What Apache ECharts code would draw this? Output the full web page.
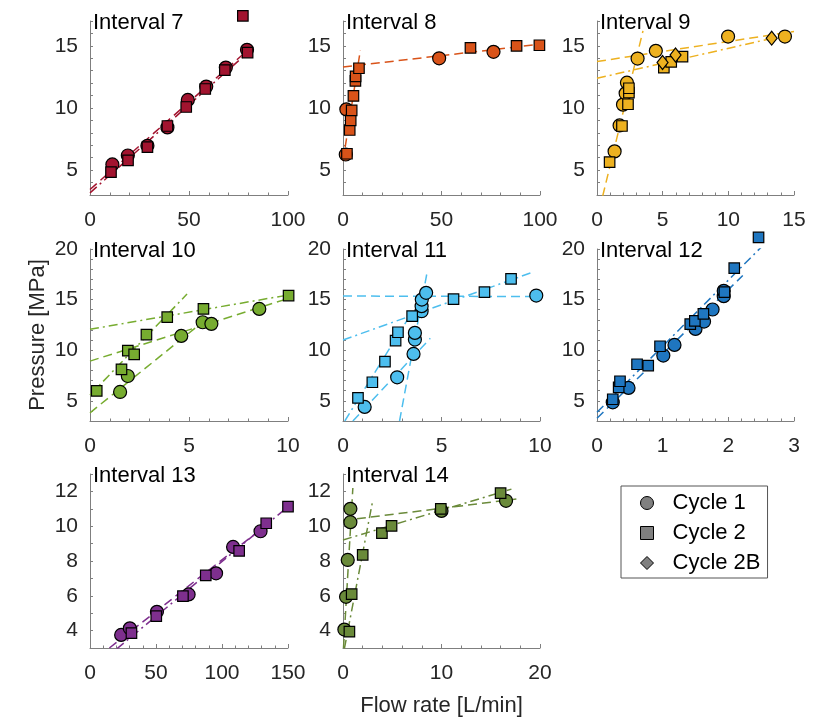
<!DOCTYPE html>
<html>
<head>
<meta charset="utf-8">
<script src="https://cdn.jsdelivr.net/npm/echarts@6/dist/echarts.min.js"></script>
<style>
  html, body { margin: 0; padding: 0; background: #ffffff; }
  #chart { width: 825px; height: 723px; }
</style>
</head>
<body>
<div id="chart"></div>
<script>
// Flow rate [L/min] vs pressure [MPa] per injection interval.
// c1 = cycle 1 (circles), c2 = cycle 2 (squares), c2b = cycle 2B (diamonds).
// fit1 / fit2 = straight-line fits for cycle 1 / cycle 2, as [start, end] point pairs.

const i7_c1 = [[11.3,5.46],[19.1,6.18],[29.0,6.96],[39.1,8.44],[49.4,10.65],[58.7,11.72],[68.6,13.25],[79.3,14.68]];
const i7_c2 = [[10.6,4.84],[19.2,5.78],[29.0,6.85],[39.1,8.55],[48.6,10.08],[58.2,11.53],[68.1,13.04],[79.6,14.46],[77.2,17.42]];
const i7_fit1 = [[[0,3.44],[80,14.7]]];
const i7_fit2 = [[[0,3.17],[80,14.5]]];

const i8_c1 = [[1.4,6.26],[1.7,9.89],[48.8,14.0],[76.4,14.52]];
const i8_c2 = [[2.0,6.32],[3.4,8.23],[3.9,9.0],[4.4,9.81],[5.3,10.97],[6.3,12.18],[6.4,12.55],[8.1,13.2],[64.7,14.84],[88.1,15.0],[99.7,15.05]];
const i8_fit1 = [[[0,5.73],[8.8,14.65]], [[0,13.3],[100,15.13]]];
const i8_fit2 = [];

const i9_c1 = [[1.34,6.51],[1.72,8.6],[1.98,10.27],[2.18,11.18],[2.28,12.04],[3.09,13.98],[4.48,14.6],[9.98,15.75],[14.31,15.75]];
const i9_c2 = [[0.96,5.65],[1.9,8.55],[2.36,10.3],[2.43,11.24],[2.43,11.59],[5.09,13.25],[5.65,13.71],[6.51,14.14]];
const i9_c2b = [[4.99,13.66],[5.98,14.27],[13.3,15.62]];
const i9_fit1 = [[[0.43,2.9],[3.5,16.2]], [[0,13.74],[15,16.16]]];
const i9_fit2 = [[[0,12.39],[13.3,15.6]]];

const i10_c1 = [[1.52,5.87],[1.91,7.45],[4.61,11.41],[5.69,12.76],[6.13,12.6],[8.55,14.08]];
const i10_c2 = [[0.34,5.97],[1.59,8.11],[1.91,9.95],[2.23,9.59],[2.85,11.54],[3.9,13.26],[5.73,14.08],[10.03,15.4]];
const i10_fit1 = [[[0,3.81],[5.7,12.8]], [[0,8.92],[10,15.1]]];
const i10_fit2 = [[[0,5.56],[4.9,15.55]], [[0,12.06],[10,15.45]]];

const i11_c1 = [[1.1,4.39],[2.75,7.32],[3.58,9.63],[3.65,11.05],[3.65,11.71],[3.99,13.85],[3.99,14.35],[4.0,15.0],[4.22,15.67],[9.81,15.4]];
const i11_c2 = [[0.76,5.28],[1.49,6.83],[2.13,8.87],[2.67,10.95],[2.79,11.77],[3.51,13.36],[5.61,15.04],[7.18,15.73],[8.53,17.05]];
const i11_fit1 = [[[0.5,3.0],[4.43,11.17]], [[2.87,3.0],[4.25,17.5]], [[0,15.35],[10,15.3]]];
const i11_fit2 = [[[0.09,3.0],[3.47,13.64]], [[0,11.0],[9.55,17.65]]];

const i12_c1 = [[0.24,4.85],[0.48,6.27],[1.01,9.47],[1.18,10.52],[1.5,12.1],[1.63,12.83],[1.76,14.02],[1.93,15.34],[1.93,15.86]];
const i12_c2 = [[0.24,5.15],[0.33,6.33],[0.35,6.93],[0.61,8.61],[0.78,8.48],[0.96,10.39],[1.42,12.57],[1.49,12.9],[1.62,13.59],[1.94,15.73],[2.09,18.1],[2.46,21.14]];
const i12_fit1 = [[[0,3.27],[2.22,17.38]]];
const i12_fit2 = [[[0,3.86],[2.5,20.18]]];

const i13_c1 = [[23.6,3.75],[30.2,4.13],[50.7,5.08],[74.7,6.08],[95.5,7.29],[108.4,8.81],[129.2,9.71]];
const i13_c2 = [[31.4,3.85],[50.2,4.83],[70.4,5.98],[87.7,7.17],[113,8.58],[133.5,10.17],[150,11.13]];
const i13_fit1 = [[[14.7,3.0],[130,9.85]]];
const i13_fit2 = [[[20.3,2.95],[150,11.12]]];

const i14_c1 = [[0.14,4.06],[0.31,5.94],[0.48,8.06],[0.75,10.23],[0.75,11.0],[10.0,10.88],[16.55,11.46]];
const i14_c2 = [[0.65,3.94],[0.88,6.1],[2.0,8.35],[3.95,9.6],[4.93,10.02],[9.93,11.0],[16.0,11.9]];
const i14_fit1 = [[[0.05,3.0],[1.0,12.2]], [[0,10.33],[17.6,11.56]]];
const i14_fit2 = [[[0.14,2.96],[3.0,11.42]], [[0,9.21],[17.1,12.13]]];

// Titles and tick labels
const panelTitles = ['Interval 7','Interval 8','Interval 9','Interval 10','Interval 11','Interval 12','Interval 13','Interval 14'];
const xTickLabels = [[0,50,100],[0,50,100],[0,5,10,15],[0,5,10],[0,5,10],[0,1,2,3],[0,50,100,150],[0,10,20]];
const yTickLabelsRow = [[5,10,15],[5,10,15,20],[4,6,8,10,12]];
const yRangeRow = [[3,17],[3,20],[3,13]];
const cycleNames = ['Cycle 1','Cycle 2','Cycle 2B'];

const panels = [
  {c1:i7_c1,  c2:i7_c2,  c2b:[],     fit1:i7_fit1,  fit2:i7_fit2},
  {c1:i8_c1,  c2:i8_c2,  c2b:[],     fit1:i8_fit1,  fit2:i8_fit2},
  {c1:i9_c1,  c2:i9_c2,  c2b:i9_c2b, fit1:i9_fit1,  fit2:i9_fit2},
  {c1:i10_c1, c2:i10_c2, c2b:[],     fit1:i10_fit1, fit2:i10_fit2},
  {c1:i11_c1, c2:i11_c2, c2b:[],     fit1:i11_fit1, fit2:i11_fit2},
  {c1:i12_c1, c2:i12_c2, c2b:[],     fit1:i12_fit1, fit2:i12_fit2},
  {c1:i13_c1, c2:i13_c2, c2b:[],     fit1:i13_fit1, fit2:i13_fit2},
  {c1:i14_c1, c2:i14_c2, c2b:[],     fit1:i14_fit1, fit2:i14_fit2}
];

// ---- styling / layout ----
const panelColors = ['#A2142F','#D95319','#EDB120','#77AC30','#4DBEEE','#1f76c0','#7E2F8E','#6a8a3a'];
const FONT = 'Liberation Sans, Arial, Helvetica, sans-serif';
const colLeft = [90, 343, 597];
const colWidth = [198, 197, 197];
const rowTop = [21, 249, 474];
const rowHeight = [174, 172, 174];
const DASH = [9, 5];
const DASHDOT = [9, 4, 2, 4];
const AXIS_GREY = '#7f7f7f';
const TEXT = '#262626';

const grids = [], xAxes = [], yAxes = [], titles = [], series = [];

panels.forEach((p, i) => {
  const row = Math.floor(i / 3), col = i % 3;
  grids.push({ left: colLeft[col], top: rowTop[row], width: colWidth[col], height: rowHeight[row] });

  const xl = xTickLabels[i];
  const xStep = xl[1] - xl[0];
  xAxes.push({
    type: 'value', gridIndex: i,
    min: 0, max: xl[xl.length - 1], interval: xStep,
    axisLine: { show: true, onZero: false, lineStyle: { color: AXIS_GREY, width: 1 } },
    axisTick: { show: true, inside: true, length: 4, lineStyle: { color: AXIS_GREY } },
    minorTick: { show: true, splitNumber: 5, length: 2.5, lineStyle: { color: AXIS_GREY } },
    splitLine: { show: false },
    axisLabel: { margin: 15, fontSize: 21, fontFamily: FONT, color: TEXT, showMinLabel: true, showMaxLabel: true },
    name: i === 7 ? 'Flow rate [L/min]' : '',
    nameLocation: 'middle', nameGap: 47,
    nameTextStyle: { fontSize: 22, fontFamily: FONT, color: TEXT }
  });

  const yr = yRangeRow[row];
  yAxes.push({
    type: 'value', gridIndex: i,
    min: yr[0], max: yr[1], interval: 1,
    axisLine: { show: true, onZero: false, lineStyle: { color: AXIS_GREY, width: 1 } },
    axisTick: { show: true, inside: true, length: 3, lineStyle: { color: AXIS_GREY } },
    splitLine: { show: false },
    axisLabel: { customValues: yTickLabelsRow[row], margin: 12, fontSize: 21, fontFamily: FONT, color: TEXT },
    name: i === 3 ? 'Pressure [MPa]' : '',
    nameLocation: 'middle', nameGap: 41,
    nameTextStyle: { fontSize: 22, fontFamily: FONT, color: TEXT }
  });

  titles.push({
    text: panelTitles[i], left: colLeft[col] + 3, top: rowTop[row] - 9, padding: 0,
    textStyle: { fontSize: 22, fontWeight: 'normal', fontFamily: FONT, color: '#000' }
  });

  const color = panelColors[i];
  const addFits = (fits, dash) => fits.forEach(seg => series.push({
    type: 'line', xAxisIndex: i, yAxisIndex: i, data: seg,
    symbol: 'none', silent: true, z: 1, clip: true,
    lineStyle: { color: color, width: 1.5, type: dash }
  }));
  addFits(p.fit1, DASH);
  addFits(p.fit2, DASHDOT);

  const mk = (name, data, symbol, size, z) => series.push({
    name: name, type: 'scatter', xAxisIndex: i, yAxisIndex: i, data: data,
    symbol: symbol, symbolSize: size, clip: false, z: z,
    itemStyle: { color: color, borderColor: '#000', borderWidth: 1.2, opacity: 1 },
    emphasis: { disabled: true }
  });
  mk(cycleNames[0], p.c1, 'circle', 13, 3);
  mk(cycleNames[1], p.c2, 'rect', 10.5, 4);
  if (p.c2b.length) mk(cycleNames[2], p.c2b, 'diamond', [11, 14], 5);
});

const legendIcons = ['circle', 'rect', 'diamond'];
const option = {
  animation: false,
  backgroundColor: '#ffffff',
  title: titles,
  grid: grids,
  xAxis: xAxes,
  yAxis: yAxes,
  legend: {
    orient: 'vertical', left: 621, top: 486,
    padding: [6, 7, 4, 19], itemGap: 8,
    itemWidth: 13, itemHeight: 13,
    borderColor: '#555555', borderWidth: 1, borderRadius: 0,
    selectedMode: false,
    textStyle: { fontSize: 22, lineHeight: 22, fontFamily: FONT, color: '#000', padding: [0, 0, 0, 14] },
    data: cycleNames.map((n, k) => ({
      name: n, icon: legendIcons[k],
      itemStyle: { color: '#808080', borderColor: '#000', borderWidth: 1 }
    }))
  },
  series: series
};

const chart = echarts.init(document.getElementById('chart'), null, { renderer: 'canvas' });
chart.setOption(option);
</script>
</body>
</html>
